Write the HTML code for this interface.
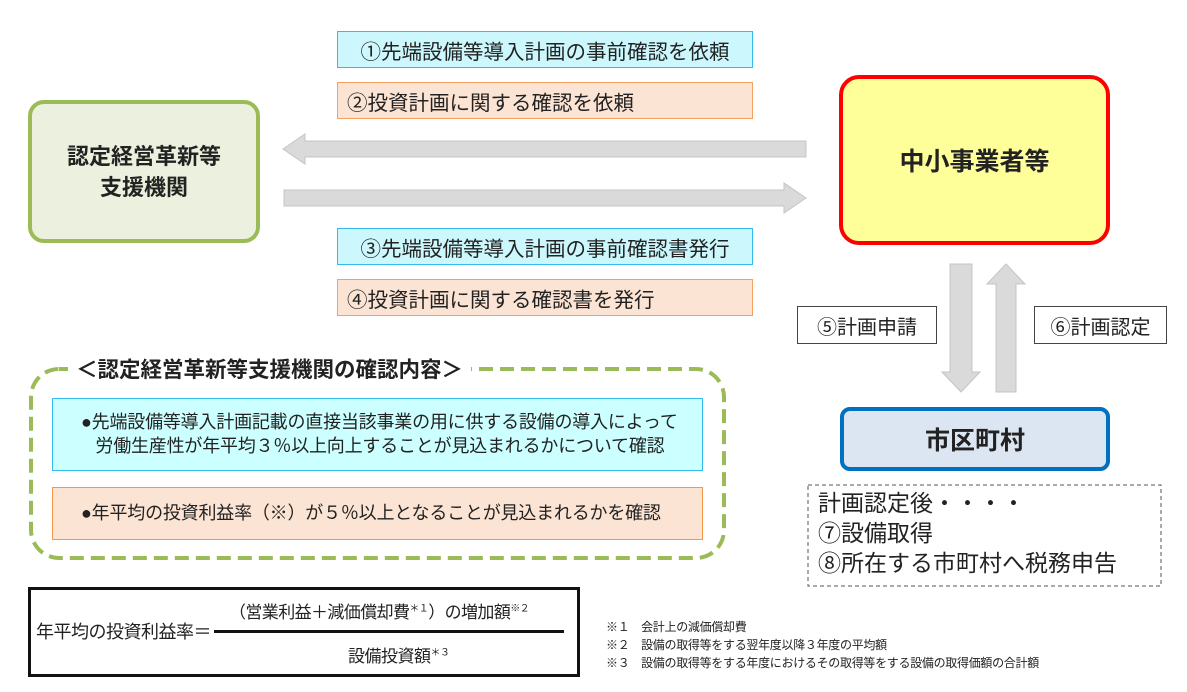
<!DOCTYPE html>
<html><head><meta charset="utf-8"><style>
body{margin:0;width:1187px;height:692px;background:#fff;position:relative;overflow:hidden;font-family:"Liberation Sans","Noto Sans CJK JP",sans-serif;color:#222}
.a{position:absolute;box-sizing:border-box}
.lb{display:flex;align-items:center;justify-content:center;font-size:20.5px;white-space:nowrap}
.cy{background:#ccf8fd;border:1.5px solid #33bbee}
.pe{background:#fce4d4;border:1.5px solid #f4a060}
</style></head><body>
<div class="a lb cy" style="left:337px;top:31px;width:416px;height:37px">①先端設備等導入計画の事前確認を依頼</div>
<div class="a lb pe" style="left:337px;top:82px;width:416px;height:37px;justify-content:flex-start;padding-left:9px">②投資計画に関する確認を依頼</div>
<div class="a lb cy" style="left:337px;top:228px;width:416px;height:37px">③先端設備等導入計画の事前確認書発行</div>
<div class="a lb pe" style="left:337px;top:279px;width:416px;height:37px;justify-content:flex-start;padding-left:9px">④投資計画に関する確認書を発行</div>
<svg class="a" style="left:0;top:0" width="1187" height="692">
<g fill="#dadada" stroke="#c4c4c4" stroke-width="1">
<polygon points="283,149 305,134 305,141 806,141 806,157 305,157 305,164"/>
<polygon points="806,198 784,183 784,190 284,190 284,206 784,206 784,213"/>
<polygon points="950,264 972,264 972,372 980,372 961,392 942,372 950,372"/>
<polygon points="996,392 1016,392 1016,284 1025,284 1006,264 987,284 996,284"/>
</g>
<rect x="31" y="369" width="693" height="189" rx="28" fill="none" stroke="#9bbb59" stroke-width="4" stroke-dasharray="14,7"/>
<rect x="808" y="485" width="353" height="101" fill="none" stroke="#555" stroke-width="1" stroke-dasharray="4,3"/>
</svg>
<div class="a" style="left:28px;top:100px;width:232px;height:143px;background:#ebf1de;border:4px solid #9bbb59;border-radius:16px;display:flex;align-items:center;justify-content:center;text-align:center;font-weight:bold;font-size:22px;line-height:31px">認定経営革新等<br>支援機関</div>
<div class="a" style="left:839px;top:75px;width:271px;height:170px;background:#ffff99;border:4px solid #ff0000;border-radius:20px;display:flex;align-items:center;justify-content:center;font-weight:bold;font-size:25px">中小事業者等</div>
<div class="a lb" style="left:797px;top:306px;width:140px;height:38px;border:1px solid #444;font-size:20px">⑤計画申請</div>
<div class="a lb" style="left:1034px;top:306px;width:133px;height:38px;border:1px solid #444;font-size:20px">⑥計画認定</div>
<div class="a" style="left:840px;top:407px;width:270px;height:64px;background:#dce6f2;border:4px solid #0070c0;border-radius:10px;display:flex;align-items:center;justify-content:center;font-weight:bold;font-size:25px">市区町村</div>
<div class="a" style="left:818px;top:488px;font-size:23px;line-height:30px;white-space:nowrap">計画認定後・・・・<br>⑦設備取得<br>⑧所在する市町村へ税務申告</div>
<div class="a" style="left:68px;top:353px;padding:0 8px;background:#fff;font-weight:bold;font-size:21.5px;white-space:nowrap">＜認定経営革新等支援機関の確認内容＞</div>
<div class="a" style="left:52px;top:398px;width:651px;height:73px;background:#ccffff;border:1.5px solid #33bbee;font-size:18px;line-height:24px;padding:11px 0 0 28px;white-space:nowrap;letter-spacing:-0.2px">●先端設備等導入計画記載の直接当該事業の用に供する設備の導入によって<br>&nbsp;&nbsp;&nbsp;労働生産性が年平均３％以上向上することが見込まれるかについて確認</div>
<div class="a" style="left:52px;top:487px;width:651px;height:53px;background:#fce4d4;border:1.5px solid #f79646;font-size:18px;line-height:51px;padding-left:28px;white-space:nowrap;letter-spacing:-0.2px">●年平均の投資利益率（※）が５％以上となることが見込まれるかを確認</div>
<div class="a" style="left:28px;top:587px;width:552px;height:90px;border:3px solid #111"></div>
<div class="a" style="left:36px;top:618px;font-size:18px;white-space:nowrap;letter-spacing:-0.5px">年平均の投資利益率＝</div>
<div class="a" style="left:214px;top:630px;width:350px;height:3px;background:#111"></div>
<div class="a" style="left:229px;top:598px;font-size:17px;white-space:nowrap;letter-spacing:-0.6px">（営業利益＋減価償却費<sup style="font-size:10px">＊１</sup>）の増加額<sup style="font-size:10px">※２</sup></div>
<div class="a" style="left:348px;top:642px;font-size:17px;white-space:nowrap;letter-spacing:-0.5px">設備投資額<sup style="font-size:10px">＊３</sup></div>
<div class="a" style="left:606px;top:618px;font-size:12px;line-height:18px;white-space:nowrap;letter-spacing:-0.3px">※１　会計上の減価償却費<br>※２　設備の取得等をする翌年度以降３年度の平均額<br>※３　設備の取得等をする年度におけるその取得等をする設備の取得価額の合計額</div>
</body></html>
